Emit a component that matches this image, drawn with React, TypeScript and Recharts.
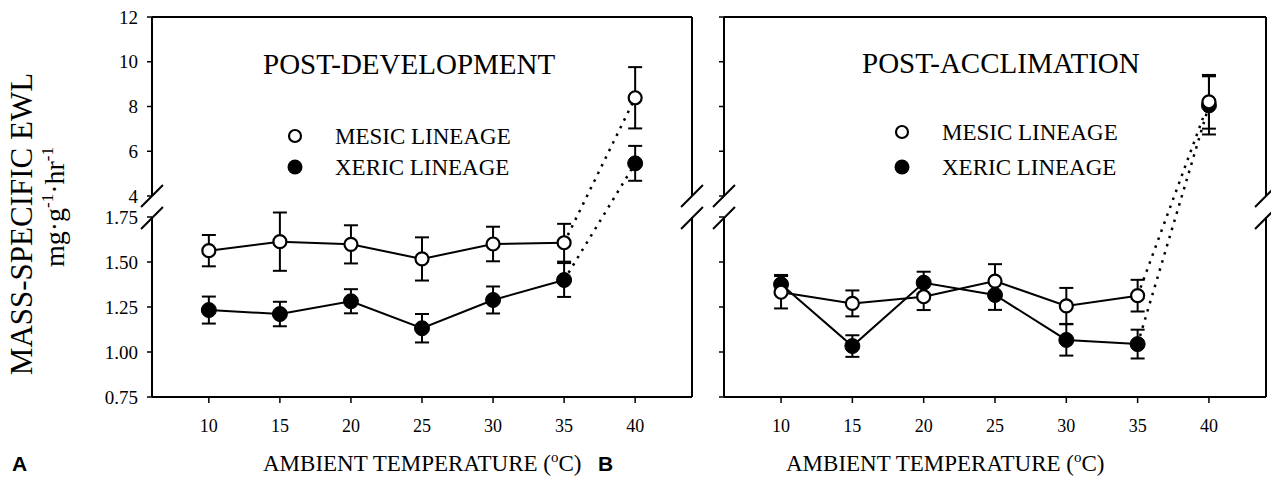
import { LineChart, Line, XAxis, YAxis, ErrorBar, ReferenceLine } from 'recharts';

// ambient temperature (°C)
const temps = [10, 15, 20, 25, 30, 35, 40];

// post-development (panel A)
const devMesic = [1.563, 1.613, 1.598, 1.517, 1.6, 1.607, 8.39];
const devMesicErr = [0.087, 0.162, 0.106, 0.12, 0.096, 0.105, 1.37];
const devXeric = [1.233, 1.211, 1.282, 1.132, 1.289, 1.4, 5.46];
const devXericErr = [0.075, 0.068, 0.067, 0.079, 0.075, 0.094, 0.78];

// post-acclimation (panel B)
const accMesic = [1.332, 1.27, 1.307, 1.394, 1.256, 1.313, 8.21];
const accMesicErr = [0.09, 0.072, 0.074, 0.094, 0.1, 0.088, 1.2];
const accXeric = [1.376, 1.033, 1.385, 1.317, 1.067, 1.044, 8.05];
const accXericErr = [0.052, 0.06, 0.061, 0.083, 0.087, 0.08, 1.3];

const yTickValues = [0.75, 1, 1.25, 1.5, 1.75, 4, 6, 8, 10, 12];
const yTickLabels = ['0.75', '1.00', '1.25', '1.50', '1.75', '4', '6', '8', '10', '12'];

const SERIF = '"Liberation Serif", "Times New Roman", serif';

// broken axis: 0.75-1.75 on the lower part, 4-12 on the upper part
const LOW_SLOPE = 180;
const HIGH_SLOPE = 22.375;
const LOW_TOP = 180;
const HIGH_BOTTOM = 201;
const Y_MAX = 380;
const X_MIN = 6;
const X_MAX = 44;

const tr = (v: number) => (v <= 2.5 ? (v - 0.75) * LOW_SLOPE : HIGH_BOTTOM + (v - 4) * HIGH_SLOPE);
const trErr = (v: number, e: number) => e * (v <= 2.5 ? LOW_SLOPE : HIGH_SLOPE);
const yTicks = yTickValues.map(tr);

const buildRows = (mesic: number[], mesicErr: number[], xeric: number[], xericErr: number[]) =>
  temps.map((temp, i) => {
    const last = i === temps.length - 1;
    const nearEnd = i >= temps.length - 2;
    return {
      temp,
      mesic: tr(mesic[i]),
      mesicErr: trErr(mesic[i], mesicErr[i]),
      mesicSolid: last ? null : tr(mesic[i]),
      mesicDotted: nearEnd ? tr(mesic[i]) : null,
      xeric: tr(xeric[i]),
      xericErr: trErr(xeric[i], xericErr[i]),
      xericSolid: last ? null : tr(xeric[i]),
      xericDotted: nearEnd ? tr(xeric[i]) : null,
    };
  });

const devRows = buildRows(devMesic, devMesicErr, devXeric, devXericErr);
const accRows = buildRows(accMesic, accMesicErr, accXeric, accXericErr);

const frameSegments = [
  [{ x: X_MIN, y: 0 }, { x: X_MIN, y: LOW_TOP }],
  [{ x: X_MIN, y: HIGH_BOTTOM }, { x: X_MIN, y: Y_MAX }],
  [{ x: X_MAX, y: 0 }, { x: X_MAX, y: LOW_TOP }],
  [{ x: X_MAX, y: HIGH_BOTTOM }, { x: X_MAX, y: Y_MAX }],
  [{ x: X_MIN, y: Y_MAX }, { x: X_MAX, y: Y_MAX }],
];
const slashSegments = [X_MIN, X_MAX].flatMap((x) =>
  [LOW_TOP - 1, HIGH_BOTTOM].map((y) => [
    { x: x - 0.77, y: y - 11 },
    { x: x + 0.77, y: y + 11 },
  ])
);

interface PanelProps {
  rows: any[];
  left: number;
  width: number;
  marginLeft: number;
  marginRight: number;
  yAxisWidth: number;
  tickLabels: boolean;
}

const Panel = ({ rows, left, width, marginLeft, marginRight, yAxisWidth, tickLabels }: PanelProps) => {
  const fmt = (v: number) => {
    if (!tickLabels) return '';
    const i = yTicks.findIndex((t) => Math.abs(t - v) < 0.01);
    return i >= 0 ? yTickLabels[i] : '';
  };
  return (
    <div style={{ position: 'absolute', left, top: 0 }}>
      <LineChart width={width} height={487} data={rows} margin={{ top: 17, right: marginRight, bottom: 30, left: marginLeft }}>
        <XAxis
          dataKey="temp"
          type="number"
          domain={[X_MIN, X_MAX]}
          ticks={temps}
          interval={0}
          height={60}
          axisLine={{ stroke: '#000', strokeWidth: 2 }}
          tickLine={{ stroke: '#000', strokeWidth: 1.5 }}
          tickSize={6}
          tickMargin={16}
          tick={{ fill: '#000', fontSize: 18, fontFamily: SERIF }}
        />
        <YAxis
          type="number"
          domain={[0, Y_MAX]}
          ticks={yTicks}
          interval={0}
          allowDataOverflow
          width={yAxisWidth}
          axisLine={false}
          tickLine={{ stroke: '#000', strokeWidth: 1.5 }}
          tickSize={5}
          tickMargin={9}
          tickFormatter={fmt}
          tick={{ fill: '#000', fontSize: 19, fontFamily: SERIF }}
        />
        {frameSegments.map((s, i) => (
          <ReferenceLine key={'f' + i} segment={s} stroke="#000" strokeWidth={2} ifOverflow="visible" />
        ))}
        {slashSegments.map((s, i) => (
          <ReferenceLine key={'s' + i} segment={s} stroke="#000" strokeWidth={2} ifOverflow="visible" />
        ))}
        <Line dataKey="xericSolid" stroke="#000" strokeWidth={2} dot={false} isAnimationActive={false} />
        <Line dataKey="mesicSolid" stroke="#000" strokeWidth={2} dot={false} isAnimationActive={false} />
        <Line dataKey="xericDotted" stroke="#000" strokeWidth={2.5} strokeDasharray="2.5 6" dot={false} isAnimationActive={false} />
        <Line dataKey="mesicDotted" stroke="#000" strokeWidth={2.5} strokeDasharray="2.5 6" dot={false} isAnimationActive={false} />
        <Line dataKey="xeric" stroke="none" dot={false} isAnimationActive={false}>
          <ErrorBar dataKey="xericErr" direction="y" width={7} stroke="#000" strokeWidth={2} />
        </Line>
        <Line dataKey="mesic" stroke="none" dot={false} isAnimationActive={false}>
          <ErrorBar dataKey="mesicErr" direction="y" width={7} stroke="#000" strokeWidth={2} />
        </Line>
        <Line dataKey="xeric" stroke="none" isAnimationActive={false} dot={{ r: 7.5, fill: '#000', stroke: '#000', strokeWidth: 1 }} />
        <Line dataKey="mesic" stroke="none" isAnimationActive={false} dot={{ r: 6.5, fill: '#fff', stroke: '#000', strokeWidth: 2.2 }} />
      </LineChart>
    </div>
  );
};

const Legend = ({ x, y1, y2, textX }: { x: number; y1: number; y2: number; textX: number }) => (
  <g>
    <circle cx={x} cy={y1} r={6} fill="#fff" stroke="#000" strokeWidth={2.2} />
    <circle cx={x} cy={y2} r={7.5} fill="#000" />
    <text x={textX} y={y1 + 8} fontSize={23}>MESIC LINEAGE</text>
    <text x={textX} y={y2 + 8} fontSize={23}>XERIC LINEAGE</text>
  </g>
);

const XTitle = ({ x }: { x: number }) => (
  <text x={x} y={471} fontSize={23}>
    AMBIENT TEMPERATURE (<tspan fontSize={15} dy={-9}>o</tspan>
    <tspan dy={9}>C)</tspan>
  </text>
);

export default function App() {
  return (
    <div style={{ position: 'absolute', left: 0, top: 0, width: 1271, height: 487, background: '#fff' }}>
      <Panel rows={devRows} left={0} width={710} marginLeft={92} marginRight={18} yAxisWidth={60} tickLabels />
      <Panel rows={accRows} left={700} width={571} marginLeft={14} marginRight={5} yAxisWidth={10} tickLabels={false} />
      <svg width={1271} height={487} style={{ position: 'absolute', left: 0, top: 0, pointerEvents: 'none' }} fontFamily={SERIF} fill="#000">
        <text transform="translate(32,224) rotate(-90)" textAnchor="middle" fontSize={31}>MASS-SPECIFIC EWL</text>
        <text transform="translate(64,207) rotate(-90)" textAnchor="middle" fontSize={28}>
          mg·g<tspan fontSize={17} dy={-11}>-1</tspan>
          <tspan dy={11}>·hr</tspan>
          <tspan fontSize={17} dy={-11}>-1</tspan>
        </text>
        <text x={263} y={74} fontSize={29}>POST-DEVELOPMENT</text>
        <text x={862} y={73} fontSize={29}>POST-ACCLIMATION</text>
        <Legend x={295} y1={136} y2={167} textX={335} />
        <Legend x={902} y1={132} y2={167} textX={942} />
        <XTitle x={263} />
        <XTitle x={786} />
        <text x={12} y={471} fontSize={21} fontWeight="bold" fontFamily='"Liberation Sans", Arial, sans-serif'>A</text>
        <text x={598} y={471} fontSize={21} fontWeight="bold" fontFamily='"Liberation Sans", Arial, sans-serif'>B</text>
      </svg>
    </div>
  );
}
